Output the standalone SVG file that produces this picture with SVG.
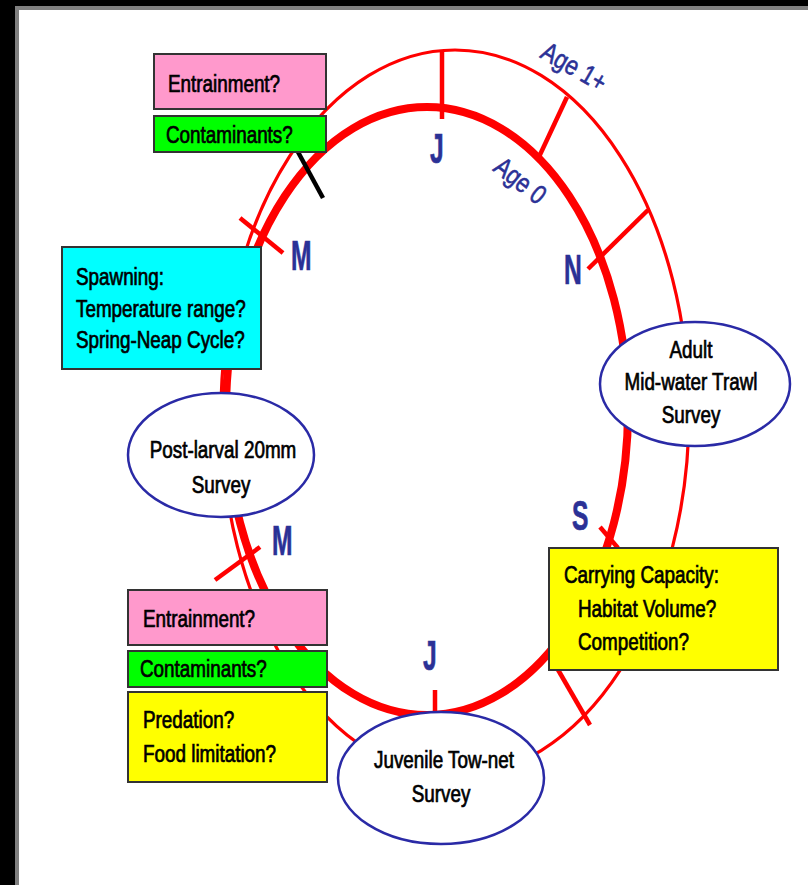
<svg xmlns="http://www.w3.org/2000/svg" width="808" height="885" viewBox="0 0 808 885">
<style>
text{font-family:'Liberation Sans',Arial,sans-serif;fill:#000;}
.t{font-size:23px;stroke:#000;stroke-width:0.7;}
.m{font-size:30px;font-weight:bold;fill:#2b3196;stroke:#2b3196;stroke-width:0.5;}
.age{font-size:27px;fill:#2b3196;stroke:#2b3196;stroke-width:0.6;}
.box{stroke:#333;stroke-width:2;}
.ell{fill:#fff;stroke:#2a2aa6;stroke-width:2.5;}
.ring{fill:none;stroke:#ff0000;}
.tick{stroke:#ff0000;stroke-width:4.5;}
</style>
<rect x="0" y="0" width="808" height="885" fill="#000"/>
<rect x="15" y="6" width="793" height="879" fill="#808080"/>
<rect x="19" y="10" width="789" height="875" fill="#fff"/>

<g id="connectors">
<ellipse class="ring" cx="455" cy="413" rx="234" ry="363" stroke-width="3.2"/>
<ellipse class="ring" cx="427" cy="411" rx="201" ry="304" stroke-width="8"/>
<line class="tick" x1="442" y1="51" x2="442" y2="119"/>
<line class="tick" x1="567" y1="97" x2="538" y2="159"/>
<line class="tick" x1="648" y1="210" x2="588" y2="269"/>
<line class="tick" x1="557" y1="668" x2="590" y2="725"/>
<line class="tick" x1="435" y1="690" x2="435" y2="714" stroke-width="5"/>
<line class="tick" x1="600" y1="527" x2="618" y2="548" stroke-width="5"/>
<line class="tick" x1="240" y1="218" x2="283" y2="253" stroke-width="5"/>
<line class="tick" x1="215" y1="580" x2="260" y2="547" stroke-width="5"/>
<line x1="298" y1="152" x2="323" y2="198" stroke="#000" stroke-width="4.5"/>
</g>

<g id="labels">
<text class="m" transform="translate(430,163) scale(0.82,1.4)">J</text>
<text class="m" transform="translate(564,284) scale(0.82,1.4)">N</text>
<text class="m" transform="translate(291,270) scale(0.82,1.4)">M</text>
<text class="m" transform="translate(572,530) scale(0.82,1.4)">S</text>
<text class="m" transform="translate(272,555) scale(0.82,1.4)">M</text>
<text class="m" transform="translate(423,670) scale(0.82,1.4)">J</text>
<text class="age" transform="translate(539,57) rotate(30) scale(0.82,1)">Age 1+</text>
<text class="age" transform="translate(492,170) rotate(38) scale(0.82,1)">Age 0</text>
</g>

<g id="entrainment-top">
<rect class="box" x="154" y="54" width="172" height="55" fill="#ff99cc"/>
<text class="t" transform="translate(168,92) scale(0.82,1)">Entrainment?</text>
</g>
<g id="contaminants-top">
<rect class="box" x="154" y="116" width="172" height="36" fill="#00ff00"/>
<text class="t" transform="translate(166,143) scale(0.82,1)">Contaminants?</text>
</g>
<g id="spawning">
<rect class="box" x="62" y="247" width="199" height="122" fill="#00ffff"/>
<text class="t" transform="translate(76,285) scale(0.82,1)">Spawning:</text>
<text class="t" transform="translate(76,317) scale(0.82,1)">Temperature range?</text>
<text class="t" transform="translate(76,348) scale(0.82,1)">Spring-Neap Cycle?</text>
</g>
<g id="postlarval">
<ellipse class="ell" cx="221" cy="455" rx="93" ry="62"/>
<text class="t" text-anchor="middle" transform="translate(223,458) scale(0.82,1)">Post-larval 20mm</text>
<text class="t" text-anchor="middle" transform="translate(221,493) scale(0.82,1)">Survey</text>
</g>
<g id="adult">
<ellipse class="ell" cx="695" cy="384" rx="95" ry="62"/>
<text class="t" text-anchor="middle" transform="translate(691,358) scale(0.82,1)">Adult</text>
<text class="t" text-anchor="middle" transform="translate(691,390) scale(0.82,1)">Mid-water Trawl</text>
<text class="t" text-anchor="middle" transform="translate(691,423) scale(0.82,1)">Survey</text>
</g>
<g id="carrying">
<rect class="box" x="549" y="548" width="229" height="122" fill="#ffff00"/>
<text class="t" transform="translate(564,583) scale(0.82,1)">Carrying Capacity:</text>
<text class="t" transform="translate(578,617) scale(0.82,1)">Habitat Volume?</text>
<text class="t" transform="translate(578,650) scale(0.82,1)">Competition?</text>
</g>
<g id="entrainment-bottom">
<rect class="box" x="128" y="590" width="199" height="55" fill="#ff99cc"/>
<text class="t" transform="translate(143,627) scale(0.82,1)">Entrainment?</text>
</g>
<g id="contaminants-bottom">
<rect class="box" x="128" y="651" width="199" height="36" fill="#00ff00"/>
<text class="t" transform="translate(140,677) scale(0.82,1)">Contaminants?</text>
</g>
<g id="predation">
<rect class="box" x="128" y="692" width="199" height="90" fill="#ffff00"/>
<text class="t" transform="translate(143,728) scale(0.82,1)">Predation?</text>
<text class="t" transform="translate(143,762) scale(0.82,1)">Food limitation?</text>
</g>
<g id="juvenile">
<ellipse class="ell" cx="441" cy="778" rx="103" ry="66"/>
<text class="t" text-anchor="middle" transform="translate(444,768) scale(0.82,1)">Juvenile Tow-net</text>
<text class="t" text-anchor="middle" transform="translate(441,802) scale(0.82,1)">Survey</text>
</g>
</svg>
